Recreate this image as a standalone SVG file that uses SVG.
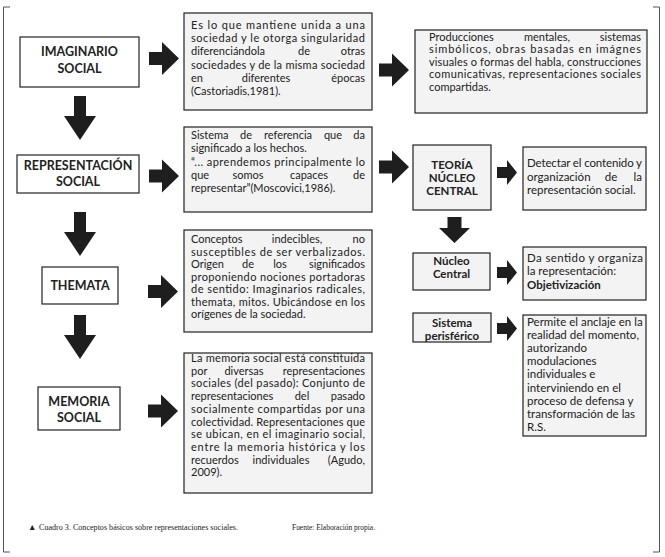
<svg xmlns="http://www.w3.org/2000/svg" width="665" height="557" viewBox="0 0 665 557">
<style>
.frame{stroke:#555;stroke-width:1;fill:none}
.lbox{fill:#fff;stroke:#222;stroke-width:1.2}
.tbox{fill:#f3f3f3;stroke:#222;stroke-width:1.2}
.t{font-family:Lato,"Open Sans",sans-serif;font-size:11px;fill:#222}
.r{font-size:11.5px}
.b{font-weight:bold}
.h{font-family:Lato,"Open Sans",sans-serif;font-weight:bold;font-size:12.5px;fill:#222;text-anchor:middle}
.hs{font-size:11.5px}
.m{text-anchor:middle}
.e{text-anchor:end}
.arr{fill:#1e1e1e}
.cap{font-family:"Liberation Serif",serif;font-size:8.5px;fill:#222}
</style>
<defs>
<path id="ra" d="M0,-6.5H13V-16.5L30,0L13,16.5V6.5H0Z"/>
<path id="sra" d="M0,-5.5H10V-12.5L20,0L10,12.5V5.5H0Z"/>
<path id="da" d="M-6,0H6V20H16L0,44L-16,20H-6Z"/>
<path id="sda" d="M-7,0H7V11H15.5L0,26L-15.5,11H-7Z"/>
</defs>
<path class="frame" d="M10,7H3.5V552H10M653,7H659.5V552H653"/>

<g id="connectors" class="arr">
<use href="#ra" x="149" y="58.5"/>
<use href="#ra" x="379" y="70"/>
<use href="#ra" x="149" y="176"/>
<use href="#ra" x="379" y="167"/>
<use href="#sra" x="497" y="172.5"/>
<use href="#ra" x="148" y="291.5"/>
<use href="#ra" x="148" y="411"/>
<use href="#da" x="80" y="96"/>
<use href="#da" x="80" y="212"/>
<use href="#da" x="80" y="315"/>
<use href="#sda" x="454.5" y="217"/>
<use href="#sra" x="497" y="272.5"/>
<use href="#sra" x="497" y="328.5"/>
</g>

<g id="imaginario">
<rect class="lbox" x="20" y="37" width="119" height="50"/>
<text class="h" x="79.5" y="56">IMAGINARIO</text>
<text class="h" x="79.5" y="73">SOCIAL</text>
</g>
<g id="representacion">
<rect class="lbox" x="17" y="155" width="122" height="38"/>
<text class="h" x="78" y="170">REPRESENTACIÓN</text>
<text class="h" x="78" y="186">SOCIAL</text>
</g>
<g id="themata">
<rect class="lbox" x="42" y="267" width="76" height="37"/>
<text class="h" x="80" y="290">THEMATA</text>
</g>
<g id="memoria">
<rect class="lbox" x="38" y="387" width="82" height="43"/>
<text class="h" x="79" y="406">MEMORIA</text>
<text class="h" x="79" y="422">SOCIAL</text>
</g>

<g id="def-imaginario" class="t">
<rect class="tbox" x="184" y="13" width="188" height="97"/>
<text x="191" y="29" textLength="174" lengthAdjust="spacing">Es lo que mantiene unida a una</text>
<text x="191" y="42.2" textLength="174" lengthAdjust="spacing">sociedad y le otorga singularidad</text>
<text x="191" y="55.4">diferenciándola</text><text class="m" x="304" y="55.4">de</text><text class="e" x="365" y="55.4">otras</text>
<text x="191" y="68.6" textLength="174" lengthAdjust="spacing">sociedades y de la misma sociedad</text>
<text x="191" y="81.8">en</text><text class="m" x="266" y="81.8">diferentes</text><text class="e" x="365" y="81.8">épocas</text>
<text x="191" y="95">(Castoriadis,1981).</text>
</g>

<g id="producciones" class="t">
<rect class="tbox" x="415" y="30" width="232" height="83"/>
<text x="429" y="40.5">Producciones</text><text class="m" x="547" y="40.5">mentales,</text><text class="e" x="641" y="40.5">sistemas</text>
<text x="429" y="53" textLength="212" lengthAdjust="spacing">simbólicos, obras basadas en imágnes</text>
<text x="429" y="65.5" textLength="212" lengthAdjust="spacing">visuales o formas del habla, construcciones</text>
<text x="429" y="78" textLength="212" lengthAdjust="spacing">comunicativas, representaciones sociales</text>
<text x="429" y="90.5">compartidas.</text>
</g>

<g id="def-representacion" class="t">
<rect class="tbox" x="184" y="127" width="188" height="85"/>
<text x="191" y="139">Sistema</text><text class="m" x="246" y="139">de</text><text class="m" x="288" y="139">referencia</text><text class="m" x="333" y="139">que</text><text class="e" x="365" y="139">da</text>
<text x="191" y="152">significado a los hechos.</text>
<text x="191" y="165.5" textLength="174" lengthAdjust="spacing">“... aprendemos principalmente lo</text>
<text x="191" y="179">que</text><text class="m" x="248" y="179">somos</text><text class="m" x="309" y="179">capaces</text><text class="e" x="365" y="179">de</text>
<text x="191" y="192">representar”(Moscovici,1986).</text>
</g>

<g id="teoria">
<rect class="tbox" x="413" y="145" width="78" height="65"/>
<text class="h hs" x="452" y="169">TEORÍA</text>
<text class="h hs" x="452" y="182">NÚCLEO</text>
<text class="h hs" x="452" y="195">CENTRAL</text>
</g>
<g id="detectar" class="t r">
<rect class="tbox" x="523" y="147" width="123" height="63"/>
<text x="527" y="167" textLength="115" lengthAdjust="spacing">Detectar el contenido y</text>
<text x="527" y="180.5">organización</text><text class="m" x="611" y="180.5">de</text><text class="e" x="642" y="180.5">la</text>
<text x="527" y="194">representación social.</text>
</g>

<g id="nucleo">
<rect class="tbox" x="413" y="253" width="77" height="37"/>
<text class="h hs" x="451.5" y="265">Núcleo</text>
<text class="h hs" x="451.5" y="278">Central</text>
</g>
<g id="da-sentido" class="t r">
<rect class="tbox" x="523" y="247" width="123" height="53"/>
<text x="527" y="262" textLength="116" lengthAdjust="spacing">Da sentido y organiza</text>
<text x="527" y="275">la representación:</text>
<text class="b" x="527" y="288.5">Objetivización</text>
</g>

<g id="sistema">
<rect class="tbox" x="413" y="313" width="78" height="29"/>
<text class="h hs" x="452" y="327">Sistema</text>
<text class="h hs" x="452" y="339.5">perisférico</text>
</g>
<g id="permite" class="t r">
<rect class="tbox" x="523" y="315" width="123" height="121"/>
<text x="527" y="326">Permite el anclaje en la</text>
<text x="527" y="339.1">realidad del momento,</text>
<text x="527" y="352.2">autorizando</text>
<text x="527" y="365.3">modulaciones</text>
<text x="527" y="378.4">individuales e</text>
<text x="527" y="391.5">interviniendo en el</text>
<text x="527" y="404.6">proceso de defensa y</text>
<text x="527" y="417.7">transformación de las</text>
<text x="527" y="430.8">R.S.</text>
</g>

<g id="def-themata" class="t">
<rect class="tbox" x="184" y="230" width="188" height="102"/>
<text x="191" y="243">Conceptos</text><text class="m" x="297" y="243">indecibles,</text><text class="e" x="365" y="243">no</text>
<text x="191" y="255.5" textLength="174" lengthAdjust="spacing">susceptibles de ser verbalizados.</text>
<text x="191" y="268">Origen</text><text class="m" x="248" y="268">de</text><text class="m" x="280" y="268">los</text><text class="e" x="365" y="268">significados</text>
<text x="191" y="280.5" textLength="174" lengthAdjust="spacing">proponiendo nociones portadoras</text>
<text x="191" y="293" textLength="174" lengthAdjust="spacing">de sentido: Imaginarios radicales,</text>
<text x="191" y="305.5" textLength="174" lengthAdjust="spacing">themata, mitos. Ubicándose en los</text>
<text x="191" y="318">orígenes de la sociedad.</text>
</g>

<g id="def-memoria" class="t">
<rect class="tbox" x="184" y="353" width="188" height="140"/>
<text x="191" y="362" textLength="174" lengthAdjust="spacing">La memoria social está constituida</text>
<text x="191" y="374.7">por</text><text class="m" x="244" y="374.7">diversas</text><text class="e" x="365" y="374.7">representaciones</text>
<text x="191" y="387.4" textLength="174" lengthAdjust="spacing">sociales (del pasado): Conjunto de</text>
<text x="191" y="400.1">representaciones</text><text class="m" x="302" y="400.1">del</text><text class="e" x="365" y="400.1">pasado</text>
<text x="191" y="412.8" textLength="174" lengthAdjust="spacing">socialmente compartidas por una</text>
<text x="191" y="425.5" textLength="174" lengthAdjust="spacing">colectividad. Representaciones que</text>
<text x="191" y="438.2" textLength="174" lengthAdjust="spacing">se ubican, en el imaginario social,</text>
<text x="191" y="450.9" textLength="174" lengthAdjust="spacing">entre la memoria histórica y los</text>
<text x="191" y="463.6">recuerdos</text><text class="m" x="281" y="463.6">individuales</text><text class="e" x="365" y="463.6">(Agudo,</text>
<text x="191" y="476.3">2009).</text>
</g>

<g id="caption" class="cap">
<text x="28" y="530">▲</text>
<text x="39" y="530" textLength="199" lengthAdjust="spacingAndGlyphs">Cuadro 3. Conceptos básicos sobre representaciones sociales.</text>
<text x="292" y="530" textLength="83" lengthAdjust="spacingAndGlyphs">Fuente: Elaboración propia.</text>
</g>
</svg>
